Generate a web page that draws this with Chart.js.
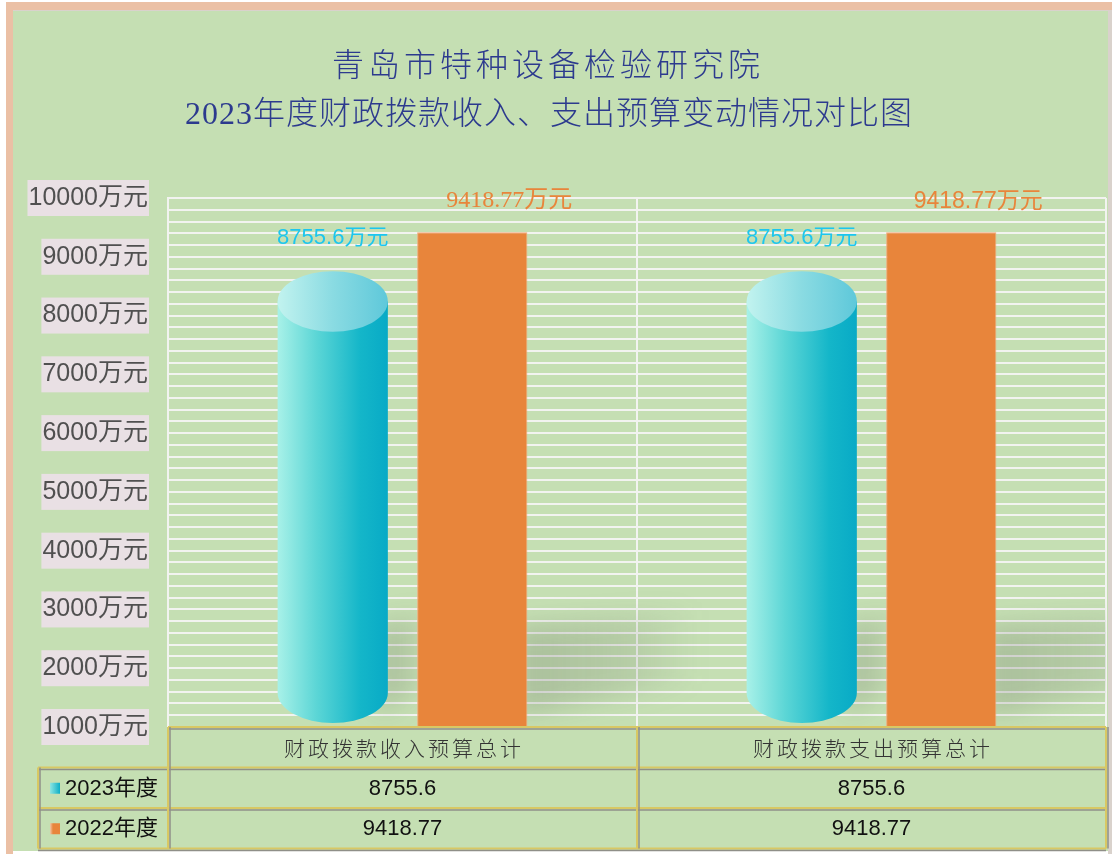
<!DOCTYPE html>
<html><head><meta charset="utf-8">
<script src="https://cdn.jsdelivr.net/npm/chart.js@4.4.1/dist/chart.umd.min.js"></script>
<style>html,body{margin:0;padding:0;background:#fff;overflow:hidden}</style>
</head><body>
<canvas id="c" width="1112" height="854"></canvas>
<script>
// ---- data ----
const categories = ['财政拨款收入预算总计', '财政拨款支出预算总计'];
const seriesNames = ['2023年度', '2022年度'];
const values2023 = [8755.6, 8755.6];
const values2022 = [9418.77, 9418.77];
const valueText2023 = ['8755.6', '8755.6'];
const valueText2022 = ['9418.77', '9418.77'];
const yMin = 1000, yMax = 10000, yGridStep = 200, yLabelStep = 1000;
const unit = '万元';
const titleLines = ['青岛市特种设备检验研究院', '2023年度财政拨款收入、支出预算变动情况对比图'];

// ---- styles ----
const GREEN = '#c5dfb3';
const ORANGE = '#e8853b';
const CYAN_TEXT = '#1cc6ee';
const SANS = "'Liberation Sans', 'Noto Sans CJK SC', sans-serif";
const SERIF = "'Liberation Serif', 'Noto Sans CJK SC', serif";
const CJK = "'Noto Sans CJK SC', sans-serif";

const framePlugin = {
  id: 'frame',
  beforeDraw(chart) {
    const ctx = chart.ctx, W = chart.width, H = chart.height;
    ctx.save();
    ctx.fillStyle = '#ffffff'; ctx.fillRect(0, 0, W, H);
    ctx.fillStyle = '#ebc0a5';
    ctx.fillRect(6, 2, W - 6, 8);
    ctx.fillRect(6, 2, 7, H - 2);
    ctx.fillStyle = '#d9d2cc';
    ctx.fillRect(13, 10, W - 13, 1);
    ctx.fillRect(W - 4, 10, 4, H - 10);
    ctx.fillStyle = GREEN;
    ctx.fillRect(13, 11, W - 17, H - 14);
    ctx.restore();
  }
};

const titlePlugin = {
  id: 'titleText',
  afterDraw(chart) {
    const ctx = chart.ctx;
    ctx.save();
    ctx.fillStyle = '#2c3a8e';
    ctx.textAlign = 'center';
    ctx.textBaseline = 'middle';
    ctx.font = '300 32px ' + SERIF;
    ctx.letterSpacing = '4px';
    ctx.fillText(titleLines[0], 548, 68);
    ctx.letterSpacing = '1px';
    ctx.fillText(titleLines[1], 549, 116);
    ctx.restore();
  }
};

function catBounds(chart) {
  const xs = chart.scales.x, ca = chart.chartArea;
  const bounds = [ca.left];
  for (let i = 0; i < categories.length - 1; i++) {
    bounds.push((xs.getPixelForValue(i) + xs.getPixelForValue(i + 1)) / 2);
  }
  bounds.push(ca.right);
  return bounds;
}

function barBase(chart, el) {
  return Math.min(el.base, chart.chartArea.bottom);
}

const backPlugin = {
  id: 'back',
  beforeDatasetsDraw(chart) {
    const ctx = chart.ctx, ca = chart.chartArea;
    ctx.save();
    ctx.strokeStyle = '#f2f3f0';
    ctx.lineWidth = 2;
    catBounds(chart).forEach(x => {
      ctx.beginPath(); ctx.moveTo(x, ca.top); ctx.lineTo(x, ca.bottom); ctx.stroke();
    });
    ctx.beginPath();
    ctx.rect(ca.left, ca.top, ca.right - ca.left, ca.bottom - ca.top);
    ctx.clip();
    ctx.filter = 'blur(12px)';
    [0, 1].forEach(di => {
      chart.getDatasetMeta(di).data.forEach(el => {
        const r = el.x + el.width / 2, b = barBase(chart, el);
        const len = di === 1 ? 170 : 40;
        const g = ctx.createLinearGradient(r, 0, r + len, 0);
        g.addColorStop(0, 'rgba(90,95,85,0.24)');
        g.addColorStop(0.6, 'rgba(90,95,85,0.14)');
        g.addColorStop(1, 'rgba(90,95,85,0.0)');
        ctx.fillStyle = g;
        ctx.beginPath();
        ctx.moveTo(r - 10, b - 100);
        ctx.lineTo(r + len, b - 118);
        ctx.lineTo(r + len, b - 45);
        ctx.lineTo(r - 10, b - 12);
        ctx.closePath();
        ctx.fill();
      });
    });
    ctx.restore();
  }
};

const barsPlugin = {
  id: 'bars',
  afterDatasetsDraw(chart) {
    const ctx = chart.ctx;
    ctx.save();
    chart.getDatasetMeta(0).data.forEach(el => {
      const x = el.x, rx = el.width / 2, ry = el.width * 0.275;
      const top = el.y, base = barBase(chart, el) - 4;
      const g = ctx.createLinearGradient(x - rx, 0, x + rx, 0);
      g.addColorStop(0, '#a8f1e8');
      g.addColorStop(0.35, '#5cd6d6');
      g.addColorStop(0.75, '#14b6c9');
      g.addColorStop(1, '#08aac6');
      ctx.fillStyle = g;
      ctx.beginPath();
      ctx.moveTo(x - rx, top + ry);
      ctx.lineTo(x - rx, base - ry);
      ctx.ellipse(x, base - ry, rx, ry, 0, Math.PI, 0, true);
      ctx.lineTo(x + rx, top + ry);
      ctx.closePath();
      ctx.fill();
      const gt = ctx.createLinearGradient(x - rx, 0, x + rx, 0);
      gt.addColorStop(0, '#c2f3ef');
      gt.addColorStop(0.5, '#8adbe2');
      gt.addColorStop(1, '#5ec8da');
      ctx.fillStyle = gt;
      ctx.beginPath();
      ctx.ellipse(x, top + ry, rx, ry, 0, 0, Math.PI * 2);
      ctx.fill();
    });
    ctx.textAlign = 'center';
    ctx.textBaseline = 'middle';
    chart.getDatasetMeta(0).data.forEach((el, i) => {
      ctx.fillStyle = CYAN_TEXT;
      ctx.font = '22px ' + SANS;
      ctx.fillText(valueText2023[i] + unit, el.x, el.y - 33);
    });
    chart.getDatasetMeta(1).data.forEach((el, i) => {
      ctx.fillStyle = ORANGE;
      ctx.font = (i === 0 ? '24px ' + SERIF : '23px ' + SANS);
      ctx.fillText(valueText2022[i] + unit, el.x + 37, el.y - 31);
    });
    ctx.restore();
  }
};

const tablePlugin = {
  id: 'table',
  afterDraw(chart) {
    const ctx = chart.ctx, ca = chart.chartArea;
    const bounds = catBounds(chart);
    const legendLeft = 38, rowH = 40.5;
    const y0 = ca.bottom, y1 = y0 + rowH, y2 = y1 + rowH, y3 = y2 + rowH;
    ctx.save();
    function line(xa, ya, xb, yb) {
      const horiz = ya === yb;
      ctx.strokeStyle = '#d8c864'; ctx.lineWidth = 2;
      ctx.beginPath(); ctx.moveTo(xa, ya); ctx.lineTo(xb, yb); ctx.stroke();
      ctx.strokeStyle = '#8f8f88'; ctx.lineWidth = 1.5;
      ctx.beginPath();
      if (horiz) { ctx.moveTo(xa, ya + 2); ctx.lineTo(xb, yb + 2); }
      else { ctx.moveTo(xa + 2, ya); ctx.lineTo(xb + 2, yb); }
      ctx.stroke();
    }
    ctx.fillStyle = GREEN;
    ctx.fillRect(bounds[0], y0, bounds[bounds.length - 1] - bounds[0], y3 - y0);
    ctx.fillRect(legendLeft, y1, bounds[0] - legendLeft, y3 - y1);
    line(bounds[0], y0, bounds[bounds.length - 1], y0);
    line(legendLeft, y1, bounds[bounds.length - 1], y1);
    line(legendLeft, y2, bounds[bounds.length - 1], y2);
    line(legendLeft, y3, bounds[bounds.length - 1], y3);
    line(legendLeft, y1, legendLeft, y3);
    bounds.forEach(x => line(x, y0, x, y3));
    ctx.textAlign = 'center'; ctx.textBaseline = 'middle';
    ctx.fillStyle = '#333333';
    ctx.font = '300 21px ' + CJK;
    ctx.letterSpacing = '3px';
    categories.forEach((c, i) => {
      const cx = (bounds[i] + bounds[i + 1]) / 2;
      ctx.fillText(c, cx + 1.5, (y0 + y1) / 2 + 1);
    });
    ctx.letterSpacing = '0px';
    ctx.fillStyle = '#111111';
    ctx.font = '22px ' + SANS;
    categories.forEach((c, i) => {
      const cx = (bounds[i] + bounds[i + 1]) / 2;
      ctx.fillText(valueText2023[i], cx, (y1 + y2) / 2 + 1);
      ctx.fillText(valueText2022[i], cx, (y2 + y3) / 2 + 1);
    });
    const rows = [[y1, y2], [y2, y3]];
    ctx.textAlign = 'left';
    ctx.font = '22px ' + SANS;
    rows.forEach((r, i) => {
      const cy = (r[0] + r[1]) / 2;
      let g = ctx.createLinearGradient(50, 0, 60, 0);
      if (i === 0) { g.addColorStop(0, '#8ee6e2'); g.addColorStop(1, '#0caec6'); }
      else { g.addColorStop(0, '#f0c8a8'); g.addColorStop(0.3, ORANGE); g.addColorStop(1, ORANGE); }
      ctx.fillStyle = g;
      ctx.fillRect(50, cy - 5, 10, 11);
      ctx.fillStyle = '#111111';
      ctx.fillText(seriesNames[i], 65, cy + 1);
    });
    ctx.restore();
  }
};

new Chart(document.getElementById('c'), {
  type: 'bar',
  data: {
    labels: categories,
    datasets: [
      { label: seriesNames[0], data: values2023, backgroundColor: 'rgba(0,0,0,0)', borderWidth: 0 },
      { label: seriesNames[1], data: values2022, backgroundColor: ORANGE, borderColor: '#f2a878', borderWidth: 1 }
    ]
  },
  options: {
    responsive: false,
    animation: false,
    devicePixelRatio: 1,
    layout: { padding: { top: 198, bottom: 127, left: 0, right: 6 } },
    datasets: { bar: { categoryPercentage: 0.595, barPercentage: 0.79 } },
    plugins: { legend: { display: false }, title: { display: false }, tooltip: { enabled: false } },
    scales: {
      x: { display: false },
      y: {
        min: yMin, max: yMax,
        afterFit(scale) { scale.width = 168; },
        border: { display: true, color: '#f2f3f0', width: 2 },
        grid: { color: '#f2f3f0', lineWidth: 2, drawTicks: false },
        ticks: {
          stepSize: yGridStep,
          autoSkip: false,
          padding: 20,
          color: '#505050',
          font: { size: 25, family: SANS },
          showLabelBackdrop: true,
          backdropColor: c => (c.tick && c.tick.value % yLabelStep === 0 ? '#e9e0e4' : 'rgba(0,0,0,0)'),
          backdropPadding: { top: 3, bottom: 3, left: 1, right: 1 },
          callback: v => (v % yLabelStep === 0 ? v + unit : '')
        }
      }
    }
  },
  plugins: [framePlugin, backPlugin, barsPlugin, tablePlugin, titlePlugin]
});
</script>
</body></html>
